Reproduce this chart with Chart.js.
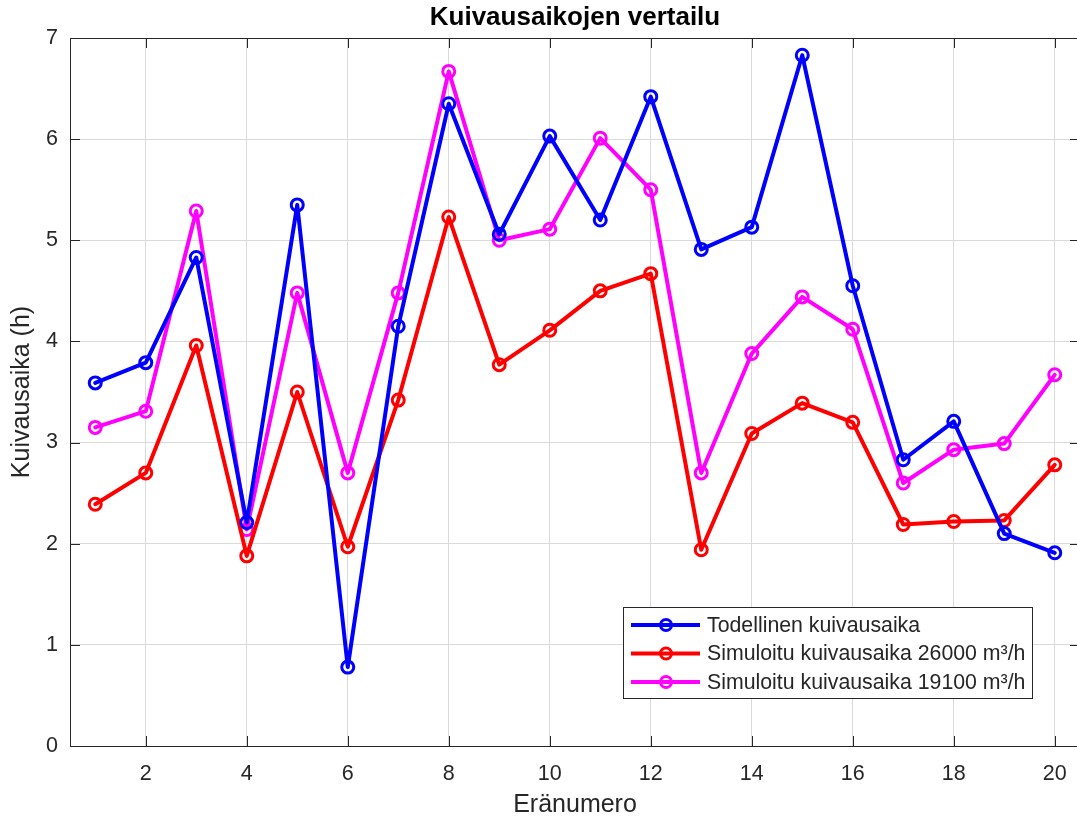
<!DOCTYPE html>
<html>
<head>
<meta charset="utf-8">
<script src="https://cdn.jsdelivr.net/npm/chart.js@4/dist/chart.umd.min.js"></script>
<style>
  html, body { margin: 0; padding: 0; background: #fff; overflow: hidden; }
  #dryChart { display: block; width: 1089px; height: 822px; }
</style>
</head>
<body>
<canvas id="dryChart" width="1089" height="822"></canvas>
<script>
// batch numbers and drying times (h)
let batches = [1, 2, 3, 4, 5, 6, 7, 8, 9, 10, 11, 12, 13, 14, 15, 16, 17, 18, 19, 20];
let actualTime = [3.59, 3.79, 4.83, 2.21, 5.35, 0.78, 4.15, 6.35, 5.06, 6.03, 5.20, 6.42, 4.91, 5.13, 6.83, 4.55, 2.83, 3.21, 2.10, 1.91];
let sim26000 = [2.39, 2.70, 3.96, 1.88, 3.50, 1.97, 3.42, 5.23, 3.77, 4.11, 4.50, 4.67, 1.94, 3.09, 3.39, 3.20, 2.19, 2.22, 2.23, 2.78];
let sim19100 = [3.15, 3.31, 5.29, 2.14, 4.48, 2.70, 4.48, 6.67, 5.00, 5.11, 6.01, 5.50, 2.70, 3.88, 4.44, 4.12, 2.60, 2.93, 2.99, 3.67];
let seriesNames = ['Todellinen kuivausaika', 'Simuloitu kuivausaika 26000 m³/h', 'Simuloitu kuivausaika 19100 m³/h'];
let xTicks = [2, 4, 6, 8, 10, 12, 14, 16, 18, 20];
let yTicks = [0, 1, 2, 3, 4, 5, 6, 7];

const FONT = '"Liberation Sans", Arial, Helvetica, sans-serif';
const AXIS = '#262626';

//turn a series into x/y points
function toPoints(values){
  let pts = [];
  for(let i = 0; i < values.length; i++){
    pts.push({x: batches[i], y: values[i]});
  }
  return pts;
}

function makeSet(label, values, color){
  return {
    label: label,
    data: toPoints(values),
    borderColor: color,
    backgroundColor: color,
    borderWidth: 4,
    borderJoinStyle: 'round',
    borderCapStyle: 'round',
    pointRadius: 6,
    pointHoverRadius: 6,
    pointBorderWidth: 3,
    pointBackgroundColor: 'rgba(0,0,0,0)',
    pointBorderColor: color,
    tension: 0
  };
}

//box round the axes plus inward ticks, like matlab does
const boxPlugin = {
  id: 'box',
  afterDatasetsDraw(chart){
    const {ctx, chartArea: a, scales} = chart;
    ctx.save();
    ctx.strokeStyle = AXIS;
    ctx.lineWidth = 1;
    ctx.beginPath();
    xTicks.forEach(v => {
      let px = Math.round(scales.x.getPixelForValue(v)) + 0.5;
      ctx.moveTo(px, a.bottom); ctx.lineTo(px, a.bottom - 10);
      ctx.moveTo(px, a.top); ctx.lineTo(px, a.top + 10);
    });
    yTicks.forEach(v => {
      let py = Math.round(scales.y.getPixelForValue(v)) + 0.5;
      ctx.moveTo(a.left, py); ctx.lineTo(a.left + 10, py);
      ctx.moveTo(a.right, py); ctx.lineTo(a.right - 10, py);
    });
    ctx.stroke();
    ctx.strokeRect(Math.round(a.left) + 0.5, Math.round(a.top) + 0.5, Math.round(a.right - a.left), Math.round(a.bottom - a.top));
    ctx.restore();
  }
};

//legend box in the lower right corner of the axes
const legendPlugin = {
  id: 'boxLegend',
  afterDraw(chart){
    const {ctx, chartArea: a} = chart;
    const sets = chart.data.datasets;
    ctx.save();
    ctx.font = '21.3px ' + FONT;
    let textW = 0;
    sets.forEach(s => { textW = Math.max(textW, ctx.measureText(s.label).width); });
    let w = Math.round(84 + textW + 7), h = 91;
    let x0 = Math.round(a.right - 48 - w), y0 = Math.round(a.bottom - 48 - h);
    ctx.fillStyle = '#fff';
    ctx.fillRect(x0, y0, w, h);
    ctx.strokeStyle = AXIS;
    ctx.lineWidth = 1;
    ctx.strokeRect(x0 + 0.5, y0 + 0.5, w, h);
    sets.forEach((s, i) => {
      let cy = y0 + 18 + i * 28.5;
      ctx.strokeStyle = s.borderColor;
      ctx.lineWidth = 4;
      ctx.beginPath();
      ctx.moveTo(x0 + 8, cy); ctx.lineTo(x0 + 77, cy);
      ctx.stroke();
      ctx.lineWidth = 3;
      ctx.beginPath();
      ctx.arc(x0 + 43, cy, 5.5, 0, Math.PI * 2);
      ctx.stroke();
      ctx.fillStyle = AXIS;
      ctx.textBaseline = 'middle';
      ctx.fillText(s.label, x0 + 84, cy + 1);
    });
    ctx.restore();
  }
};

let elChart = document.getElementById('dryChart').getContext('2d');
let dryChart = new Chart(elChart, {
  type: 'line',
  data: {
    datasets: [
      makeSet(seriesNames[0], actualTime, '#0000ff'),
      makeSet(seriesNames[1], sim26000, '#ff0000'),
      makeSet(seriesNames[2], sim19100, '#ff00ff')
    ]
  },
  plugins: [boxPlugin, legendPlugin],
  options: {
    responsive: false,
    maintainAspectRatio: false,
    devicePixelRatio: 1,
    animation: false,
    layout: { padding: { left: 0, right: 3, top: 0, bottom: 0 } },
    plugins: {
      legend: { display: false },
      tooltip: { enabled: false },
      title: {
        display: true,
        fullSize: false,
        text: 'Kuivausaikojen vertailu',
        color: '#000',
        font: { family: FONT, size: 26, weight: 'bold', lineHeight: 1.2 },
        padding: { top: 2, bottom: 4.8 }
      }
    },
    scales: {
      x: {
        type: 'linear',
        min: 0.5,
        max: 20.5,
        afterBuildTicks(scale){ scale.ticks = xTicks.map(v => ({value: v})); },
        afterFit(scale){ scale.height = 76; },
        grid: { color: '#dadada', lineWidth: 1, drawTicks: false },
        border: { display: false },
        ticks: { color: AXIS, font: { family: FONT, size: 21.5 }, padding: 15, maxRotation: 0, autoSkip: false },
        title: {
          display: true,
          text: 'Eränumero',
          color: AXIS,
          font: { family: FONT, size: 25, lineHeight: 1.2 },
          padding: { top: 0, bottom: 2 }
        }
      },
      y: {
        min: 0,
        max: 7,
        afterBuildTicks(scale){ scale.ticks = yTicks.map(v => ({value: v})); },
        afterFit(scale){ scale.width = 70; },
        grid: { color: '#dadada', lineWidth: 1, drawTicks: false },
        border: { display: false },
        ticks: { color: AXIS, font: { family: FONT, size: 21.5 }, padding: 12 },
        title: {
          display: true,
          text: 'Kuivausaika (h)',
          color: AXIS,
          font: { family: FONT, size: 25, lineHeight: 1.2 },
          padding: { top: 7.5, bottom: 0 }
        }
      }
    }
  }
});
</script>
</body>
</html>
